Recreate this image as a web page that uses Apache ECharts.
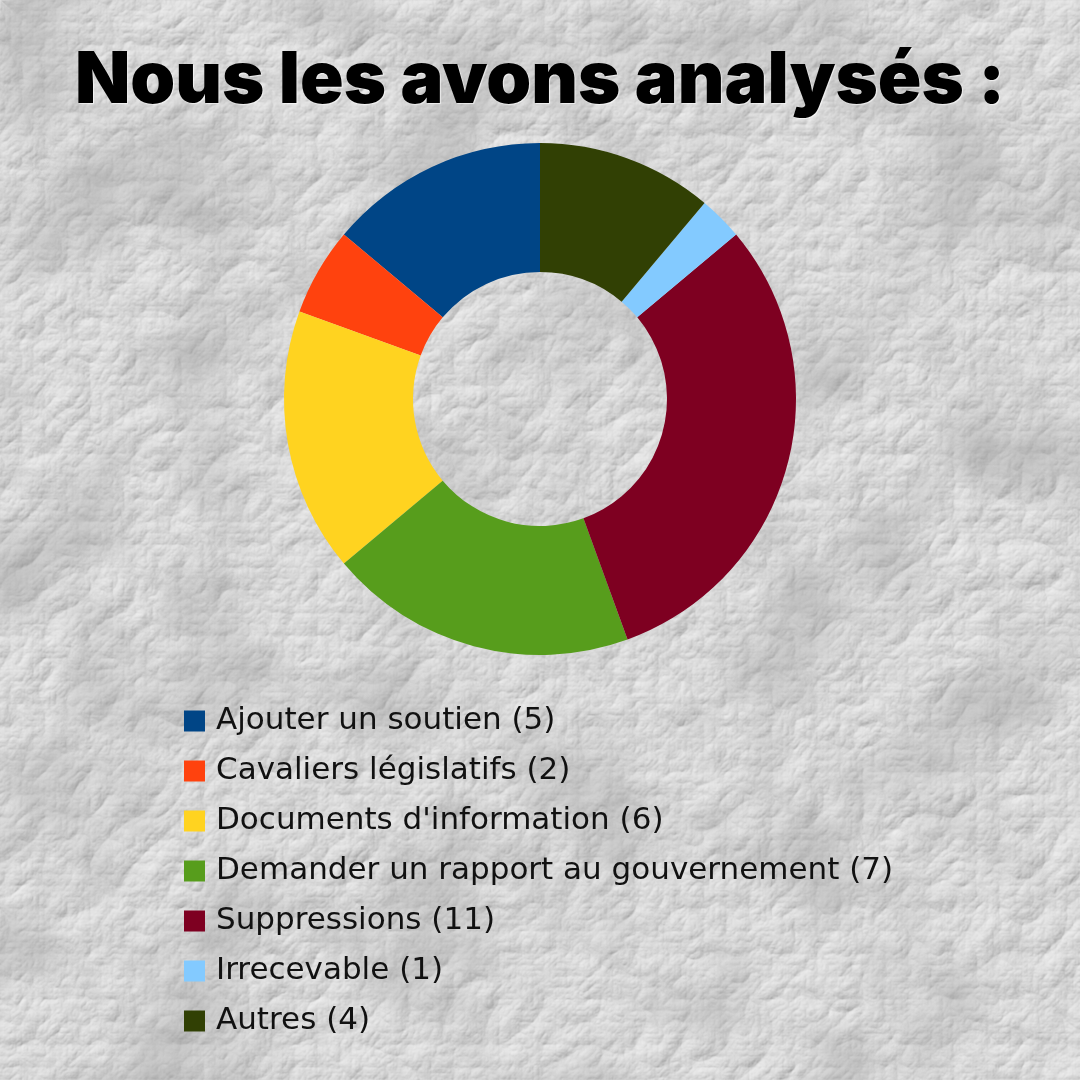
<!DOCTYPE html>
<html>
<head>
<meta charset="utf-8">
<script src="https://cdn.jsdelivr.net/npm/echarts@6/dist/echarts.min.js"></script>
<style>
html,body{margin:0;padding:0;width:1080px;height:1080px;overflow:hidden;background:#cfcfcf;}
#bg{position:absolute;left:0;top:0;width:1080px;height:1080px;}
#c{position:absolute;left:0;top:0;width:1080px;height:1080px;}
</style>
</head>
<body>
<svg id="bg" width="1080" height="1080" xmlns="http://www.w3.org/2000/svg">
  <filter id="paper" x="0" y="0" width="100%" height="100%">
    <feTurbulence type="turbulence" baseFrequency="0.022" numOctaves="5" seed="7" result="n"/>
    <feColorMatrix type="saturate" values="0"/>
    <feDiffuseLighting lighting-color="#ffffff" surfaceScale="2.8" diffuseConstant="1.0">
      <feDistantLight azimuth="235" elevation="45"/>
    </feDiffuseLighting>
  </filter>
  <filter id="patches" x="0" y="0" width="100%" height="100%">
    <feTurbulence type="fractalNoise" baseFrequency="0.008" numOctaves="3" seed="11"/>
    <feColorMatrix type="matrix" values="0 0 0 0 0.35  0 0 0 0 0.35  0 0 0 0 0.35  2.2 0 0 0 -0.95"/>
  </filter>
  <rect width="1080" height="1080" fill="#cfcfcf"/>
  <rect width="1080" height="1080" filter="url(#paper)" opacity="0.72"/>
  <rect width="1080" height="1080" filter="url(#patches)" opacity="0.55"/>
</svg>
<div id="c"></div>
<script>
const titleText = "Nous les avons analysés :";
const categories = ["Ajouter un soutien", "Cavaliers législatifs", "Documents d'information", "Demander un rapport au gouvernement", "Suppressions", "Irrecevable", "Autres"];
const values = [5, 2, 6, 7, 11, 1, 4];
const colors = ["#004586", "#ff420e", "#ffd320", "#579d1c", "#7e0021", "#83caff", "#314004"];

const chart = echarts.init(document.getElementById('c'), null, {renderer: 'canvas'});
const lookup = {};
categories.forEach((c, i) => lookup[c] = values[i]);
chart.setOption({
  backgroundColor: 'transparent',
  color: colors,
  title: {
    text: titleText,
    left: 'center',
    top: 40,
    textStyle: {
      fontFamily: 'Inter',
      fontWeight: 900,
      fontSize: 72,
      color: '#000',
      textShadowColor: 'rgba(255,255,255,0.7)',
      textShadowBlur: 1,
      textShadowOffsetX: 1,
      textShadowOffsetY: 1
    }
  },
  legend: {
    orient: 'vertical',
    left: 184,
    top: 705,
    height: 375,
    padding: 0,
    icon: 'rect',
    itemWidth: 21,
    itemHeight: 21,
    itemGap: 18,
    selectedMode: false,
    data: categories,
    formatter: name => name + ' (' + lookup[name] + ')',
    textStyle: {
      fontFamily: 'DejaVu Sans',
      fontSize: 31,
      lineHeight: 32,
      color: '#111',
      padding: [0, 0, 0, 6]
    }
  },
  series: [{
    type: 'pie',
    center: [540, 399],
    radius: [127, 256],
    startAngle: 90,
    clockwise: false,
    avoidLabelOverlap: false,
    label: {show: false},
    labelLine: {show: false},
    emphasis: {disabled: true},
    itemStyle: {borderWidth: 0},
    data: categories.map((c, i) => ({name: c, value: values[i]}))
  }]
});
</script>
</body>
</html>
